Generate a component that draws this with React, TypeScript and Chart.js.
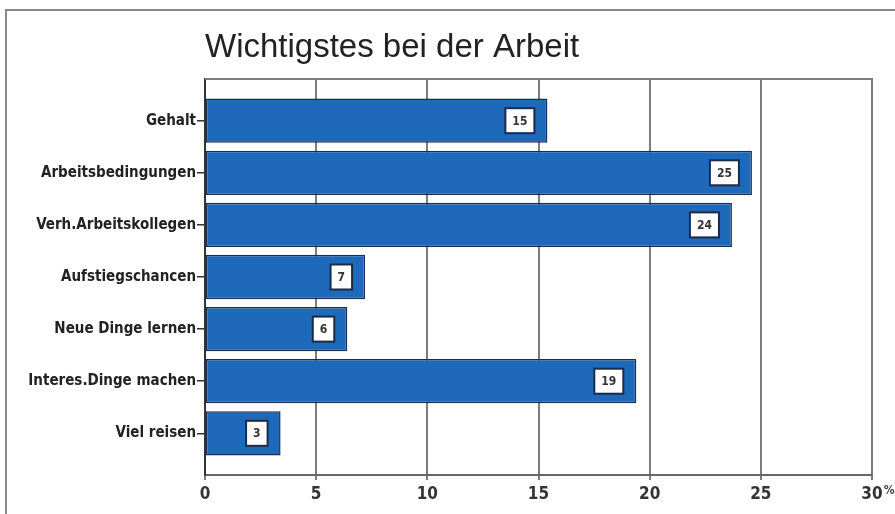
import React, { useEffect, useRef } from "react";
import { Chart, registerables } from "chart.js";

Chart.register(...registerables);

const chartTitle = "Wichtigstes bei der Arbeit";
const categories = [
  "Gehalt",
  "Arbeitsbedingungen",
  "Verh.Arbeitskollegen",
  "Aufstiegschancen",
  "Neue Dinge lernen",
  "Interes.Dinge machen",
  "Viel reisen",
];
const shares = [15.4, 24.6, 23.7, 7.2, 6.4, 19.4, 3.4];
const xTickValues = [0, 5, 10, 15, 20, 25, 30];
const unitLabel = "%";

const NARROW = "'Liberation Sans Narrow', 'DejaVu Sans Condensed', 'Arial Narrow', sans-serif";
const REGULAR = "'Liberation Sans', Arial, Helvetica, sans-serif";

export default function App() {
  const ref = useRef<HTMLCanvasElement | null>(null);

  useEffect(() => {
    document.body.style.margin = "0";
    const canvas = ref.current;
    if (!canvas) return;

    const decorations = {
      id: "decorations",
      beforeDatasetsDraw(chart: any) {
        const { ctx, chartArea } = chart;
        ctx.save();
        ctx.strokeStyle = "#7c7c7c";
        ctx.lineWidth = 2;
        ctx.beginPath();
        ctx.moveTo(chartArea.left, chartArea.top);
        ctx.lineTo(chartArea.right + 1, chartArea.top);
        ctx.stroke();
        ctx.restore();
      },
      afterDatasetsDraw(chart: any) {
        const { ctx } = chart;
        const meta = chart.getDatasetMeta(0);
        ctx.save();
        ctx.font = `bold 12px ${NARROW}`;
        meta.data.forEach((el: any, i: number) => {
          const text = String(Math.round(shares[i]));
          const w = ctx.measureText(text).width;
          const bw = w + 14;
          const bh = 25;
          const right = el.x - 13;
          const left = right - bw;
          const top = el.y - bh / 2;
          ctx.fillStyle = "#ffffff";
          ctx.fillRect(left, top, bw, bh);
          ctx.strokeStyle = "#1b2b47";
          ctx.lineWidth = 2;
          ctx.strokeRect(left, top, bw, bh);
          ctx.fillStyle = "#333333";
          ctx.textAlign = "center";
          ctx.textBaseline = "middle";
          ctx.fillText(text, left + bw / 2, el.y + 1);
        });
        ctx.restore();
      },
      afterDraw(chart: any) {
        const { ctx, chartArea, scales } = chart;
        ctx.save();
        ctx.fillStyle = "#222222";
        ctx.font = `33px ${REGULAR}`;
        ctx.textAlign = "left";
        ctx.textBaseline = "alphabetic";
        ctx.fillText(chartTitle, chartArea.left, 57);
        const last = xTickValues[xTickValues.length - 1];
        ctx.font = `bold 17px ${NARROW}`;
        const lw = ctx.measureText(String(last)).width;
        const xp = scales.x.getPixelForValue(last) + lw / 2 + 1;
        ctx.font = `bold 12px ${NARROW}`;
        ctx.fillStyle = "#444444";
        ctx.fillText(unitLabel, xp, 494);
        ctx.restore();
      },
    };

    const chart = new Chart(canvas, {
      type: "bar",
      data: {
        datasets: [
          {
            data: shares.map((v, i) => ({ x: v, y: i })),
            backgroundColor: "#1f69bb",
            borderColor: "#1a2d55",
            borderWidth: 1.5,
            borderSkipped: false,
            barPercentage: 0.85,
            categoryPercentage: 1,
          },
        ],
      },
      options: {
        indexAxis: "y",
        responsive: false,
        animation: false,
        layout: { padding: { top: 79, right: 23, left: 0, bottom: 0 } },
        plugins: {
          legend: { display: false },
          title: { display: false },
          tooltip: { enabled: false },
        },
        scales: {
          x: {
            type: "linear",
            min: 0,
            max: 30,
            afterBuildTicks: (scale: any) => {
              scale.ticks = xTickValues.map((v) => ({ value: v }));
            },
            afterFit: (scale: any) => {
              scale.height = 39;
            },
            ticks: {
              font: { family: NARROW, size: 17, weight: "bold" },
              color: "#333333",
              padding: 4,
            },
            grid: {
              color: "#7c7c7c",
              lineWidth: 2,
              tickLength: 5,
              drawTicks: true,
            },
            border: { display: true, color: "#666666", width: 2 },
          },
          y: {
            type: "linear",
            reverse: true,
            offset: false,
            min: -0.8,
            max: 6.8,
            afterBuildTicks: (scale: any) => {
              scale.ticks = categories.map((_, i) => ({ value: i }));
            },
            afterFit: (scale: any) => {
              scale.width = 205;
            },
            ticks: {
              callback: (value: any) => categories[value as number] ?? "",
              font: { family: NARROW, size: 15, weight: "bold" },
              color: "#222222",
              padding: 1,
            },
            grid: {
              offset: false,
              drawOnChartArea: false,
              drawTicks: true,
              tickLength: 8,
              color: "#333333",
              lineWidth: 1.5,
            },
            border: { display: true, color: "#333333", width: 2 },
          },
        },
      },
      plugins: [decorations],
    } as any);

    return () => chart.destroy();
  }, []);

  return (
    <div style={{ position: "relative", width: 895, height: 514, overflow: "hidden", background: "#ffffff" }}>
      <div
        style={{
          position: "absolute",
          left: 5,
          top: 9,
          width: 1000,
          height: 1000,
          border: "2px solid #8a8a8a",
        }}
      />
      <canvas ref={ref} width={895} height={514} style={{ position: "absolute", left: 0, top: 0 }} />
    </div>
  );
}
